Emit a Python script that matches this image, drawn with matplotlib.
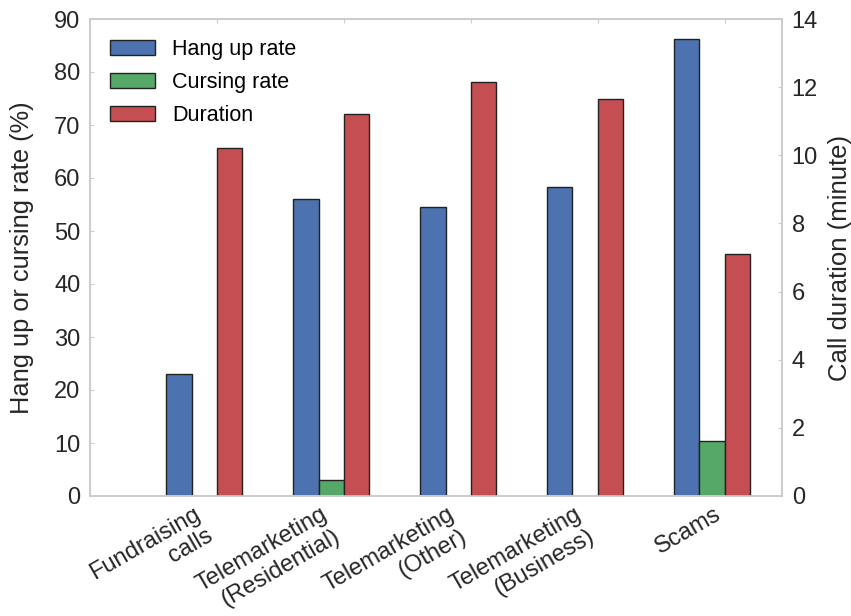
import numpy as np
import matplotlib
matplotlib.use("Agg")
import matplotlib.pyplot as plt

plt.rcParams['font.family'] = ['Liberation Sans', 'DejaVu Sans']

categories = ["Fundraising\ncalls", "Telemarketing\n(Residential)", "Telemarketing\n(Other)",
              "Telemarketing\n(Business)", "Scams"]
hang_up = [23.0, 56.0, 54.5, 58.3, 86.2]
cursing = [0.0, 3.1, 0.0, 0.0, 10.3]
duration = [10.2, 11.2, 12.15, 11.65, 7.1]

blue, green, red = "#4C72B0", "#55A868", "#C44E52"
spine_c = "#cccccc"
text_c = "#262626"

fig = plt.figure(figsize=(8.51, 6.16), dpi=100)
ax = fig.add_axes([90/851, 1-496/616, (782-90)/851, (496-19)/616])
ax2 = ax.twinx()

ind = np.arange(len(categories))
w = 0.2
b1 = ax.bar(ind, hang_up, w, align='edge', color=blue, edgecolor='#222222', linewidth=1, label="Hang up rate")
b2 = ax.bar(ind + w, cursing, w, align='edge', color=green, edgecolor='#222222', linewidth=1, label="Cursing rate")
b3 = ax2.bar(ind + 2*w, duration, w, align='edge', color=red, edgecolor='#222222', linewidth=1, label="Duration")

ax.set_xlim(-0.6, 4.85)
ax.set_ylim(0, 90)
ax2.set_ylim(0, 14)
ax.set_yticks(np.arange(0, 91, 10))
ax2.set_yticks(np.arange(0, 15, 2))
ax.set_xticks(ind + 2*w)
ax.set_xticklabels(categories, rotation=30, ha='right', fontsize=17, color=text_c)
ax.tick_params(axis='y', labelsize=17, labelcolor=text_c, direction='in', length=3, color=spine_c, pad=7)
ax.tick_params(axis='x', direction='in', length=3, color=spine_c, top=True, pad=5)
ax2.tick_params(axis='y', labelsize=17, labelcolor=text_c, direction='in', length=3, color=spine_c, pad=7)
ax.set_ylabel("Hang up or cursing rate (%)", fontsize=18.3, color=text_c, labelpad=14)
ax2.set_ylabel("Call duration (minute)", fontsize=18.5, color=text_c, labelpad=7)

for a in (ax, ax2):
    for s in a.spines.values():
        s.set_color(spine_c)
        s.set_linewidth(1.2)

ax.legend([b1, b2, b3], ["Hang up rate", "Cursing rate", "Duration"], loc='upper left',
          frameon=False, fontsize=15.5, handlelength=2.05, handleheight=0.7,
          bbox_to_anchor=(0.0, 1.0), borderaxespad=0.55, labelspacing=0.55, handletextpad=0.8)

fig.savefig("out.png", dpi=100)
